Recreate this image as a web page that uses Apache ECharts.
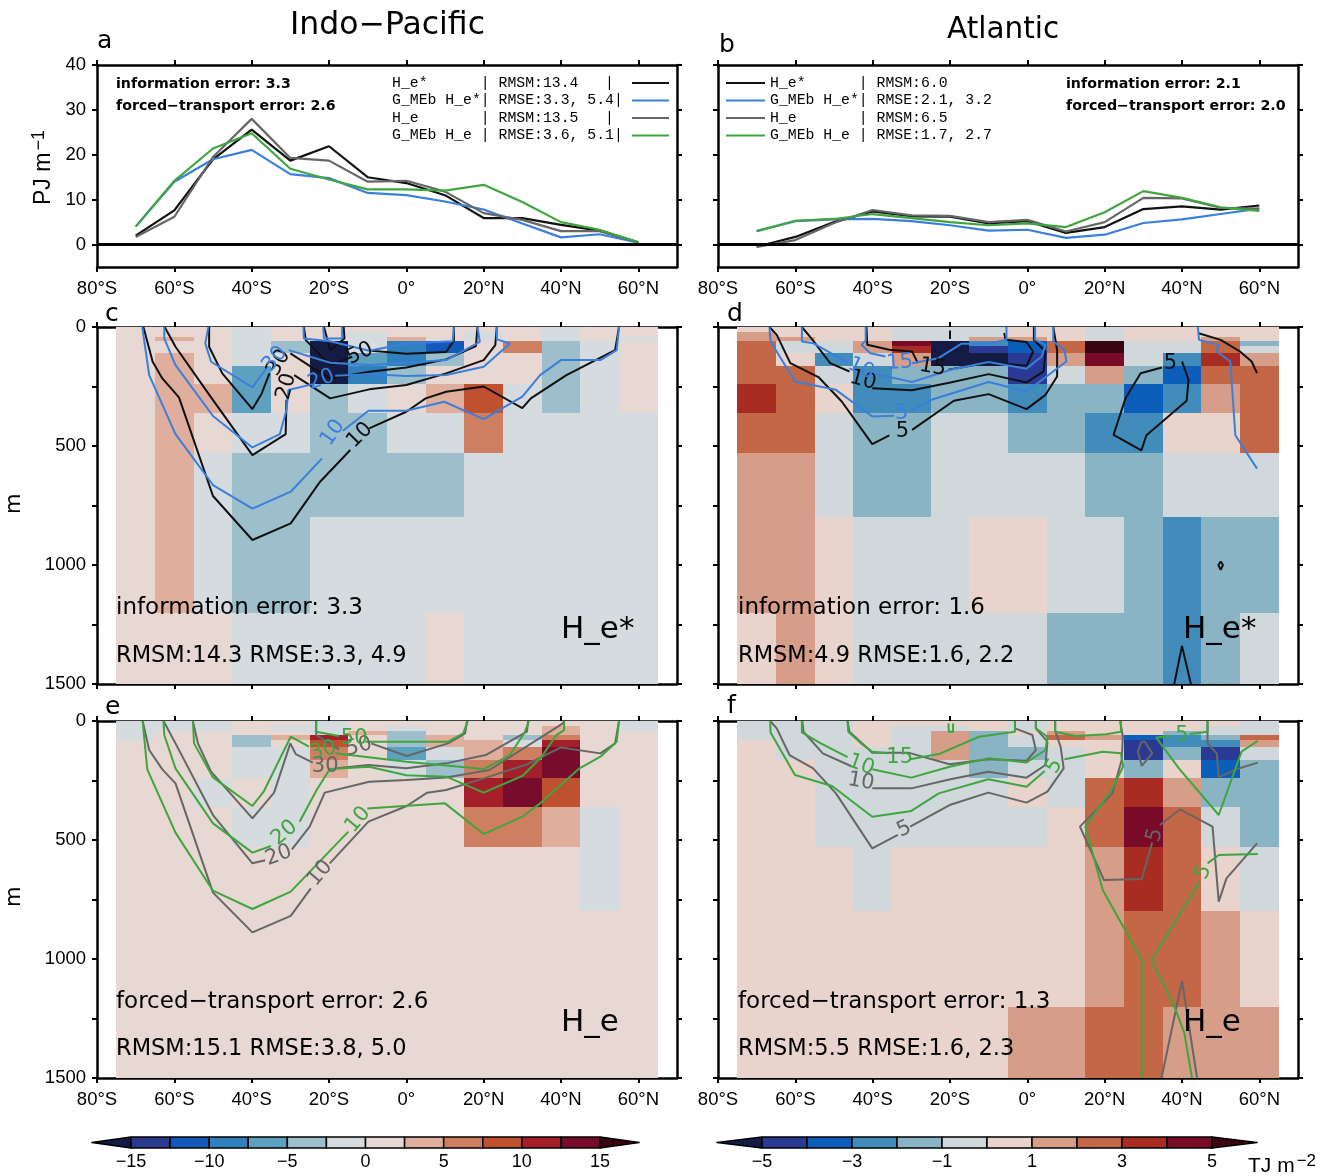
<!DOCTYPE html>
<html><head><meta charset="utf-8">
<style>html,body{margin:0;padding:0;background:#fff}#c{width:1338px;height:1176px}</style>
<script src="https://cdn.jsdelivr.net/npm/echarts@6/dist/echarts.min.js"></script></head>
<body><div id="c"></div>
<script>
const lats = [-70,-60,-50,-40,-30,-20,-10,0,10,20,30,40,50,60];
const depthEdges = [0,20,40,60,80,110,165,240,360,530,800,1200,1500];
const xTicks = [-80,-60,-40,-20,0,20,40,60];

// Zonal integrals, PJ m-1
const aHeStar  = [2,7.6,19,25.6,18.7,21.9,15,13.7,11,5.9,5.9,4.4,3.1,0.5];
const aGHeStar = [4,14,19,21.1,15.7,14.8,11.5,11,9.6,7.8,4.7,1.6,2.3,0.4];
const aHe      = [1.7,6.2,19.5,28,19.3,18.7,14,14.2,11.8,7,5.5,3,3,0.5];
const aGHe     = [4,14.2,21.4,24.8,16.9,14.5,12.3,12.3,12,13.3,9.5,5,3.3,0.5];
const bHeStar  = [-0.5,1.7,5,7.4,6.3,6.2,4.7,5.2,2.6,3.9,7.9,8.5,7.8,8.7];
const bGHeStar = [3,5.2,5.6,5.7,5.2,4.3,3.1,3.3,1.5,2.2,4.8,5.6,6.8,8];
const bHe      = [-0.5,1,4.8,7.7,6.5,6.4,5,5.5,2.9,5,10.4,10.3,8.2,8];
const bGHe     = [3,5.3,5.7,6.8,5.9,5,4.3,4.7,3.9,7.2,11.9,10.4,8.3,7.5];

// Difference fields (rows: depth layers, columns: lats), TJ m-2
const cellsC = [
[1,1,1,-1,1,1,1,1,1,1,1,-1,1,1],
[1,1,1,-1,1,1,-1,1,1,-1,1,-1,1,1],
[1,4,1,-1,1,1,-1,4,1,-1,1,-1,1,-1],
[1,1,1,-1,-4,-16,-1,-9,-11,1,6,-4,-1,1],
[1,1,1,-1,-4,-16,-1,-9,-11,1,6,-4,-1,1],
[1,4,1,-1,1,-16,-6,-9,-4,1,1,-4,-1,1],
[1,4,1,-6,1,-16,-9,-4,1,1,1,-4,-1,1],
[1,4,4,-6,1,-4,-1,1,4,9,-1,-4,-1,1],
[1,4,1,-1,-1,-4,-4,-1,-1,6,-1,-1,-1,-1],
[1,4,-1,-4,-4,-4,-4,-4,-4,-1,-1,-1,-1,-1],
[1,4,-1,-4,-4,-1,-1,-1,-1,-1,-1,-1,-1,-1],
[1,1,1,-1,-1,-1,-1,-1,1,-1,-1,-1,-1,-1]];
const cellsD = [
[.5,.5,.5,.5,-.5,-.5,-.5,.5,.5,-.5,.5,.5,.5,.5],
[1.5,.5,.5,.5,-.5,-.5,-.5,.5,.5,-.5,.5,.5,.5,.5],
[1.5,1.5,.5,.5,-.5,-.5,1.5,1.5,.5,-.5,.5,.5,1.5,.5],
[2.5,-.5,-.5,1.5,4.5,-5.5,-2.5,-3.5,2.5,5.5,-.5,-.5,2.5,-1.5],
[2.5,-.5,-.5,1.5,3.5,-5.5,-4.5,-3.5,2.5,5.5,-.5,-.5,2.5,-.5],
[2.5,.5,-2.5,-.5,1.5,-5.5,-5.5,-4.5,1.5,4.5,-.5,-2.5,3.5,1.5],
[2.5,2.5,-.5,-2.5,-1.5,-1.5,-1.5,-4.5,-.5,1.5,-1.5,-3.5,2.5,2.5],
[3.5,2.5,.5,-2.5,-2.5,-1.5,-1.5,-2.5,-1.5,-1.5,-3.5,-2.5,1.5,2.5],
[2.5,2.5,-.5,-1.5,-1.5,-.5,-.5,-1.5,-1.5,-2.5,-2.5,.5,.5,2.5],
[1.5,1.5,-.5,-1.5,-1.5,-.5,-.5,-.5,-.5,-1.5,-1.5,-.5,-.5,-.5],
[1.5,1.5,.5,-.5,-.5,-.5,.5,.5,-.5,-.5,-1.5,-2.5,-1.5,-1.5],
[.5,1.5,.5,-.5,-.5,-.5,-.5,-.5,-1.5,-1.5,-1.5,-2.5,-1.5,-.5]];
const cellsE = [
[-1,-1,-1,1,1,-1,1,1,1,1,1,1,1,-1],
[-1,-1,-1,1,-1,-1,1,-1,1,1,1,4,1,-1],
[-1,1,1,1,1,-1,4,-4,1,1,1,4,1,1],
[-1,1,1,-4,4,11,1,-4,4,1,-4,6,1,1],
[1,1,1,-4,1,9,1,-4,4,4,-1,11,1,1],
[1,1,1,-1,-1,6,1,-6,-1,4,6,14,1,1],
[1,1,1,-1,-1,4,1,-1,-4,6,11,14,1,1],
[1,1,-1,1,-1,1,1,1,1,11,14,9,1,1],
[1,1,1,-1,-1,1,1,1,1,6,6,4,-1,1],
[1,1,1,1,1,1,1,1,1,1,1,1,-1,1],
[1,1,1,1,1,1,1,1,1,1,1,1,1,1],
[1,1,1,1,1,1,1,1,1,1,1,1,1,1]];
const cellsF = [
[-.5,-.5,-.5,.5,.5,.5,.5,-.5,.5,.5,.5,.5,.5,-.5],
[-.5,-.5,-.5,.5,-.5,-.5,.5,-.5,.5,.5,.5,.5,-.5,-.5],
[-.5,-.5,-.5,.5,-.5,1.5,-1.5,.5,1.5,.5,.5,-1.5,-.5,-.5],
[-.5,-.5,-.5,.5,-.5,1.5,-1.5,-.5,2.5,1.5,-3.5,-2.5,-1.5,2.5],
[.5,-.5,-.5,.5,-.5,1.5,-1.5,-.5,.5,.5,-4.5,-2.5,-2.5,1.5],
[.5,-.5,-.5,-.5,-.5,1.5,-1.5,-1.5,-.5,.5,-4.5,-1.5,-4.5,-.5],
[.5,.5,-.5,-.5,-.5,-.5,-1.5,-.5,-.5,.5,-1.5,.5,-3.5,-1.5],
[.5,.5,-.5,-.5,-.5,-.5,-.5,.5,-.5,2.5,3.5,1.5,-1.5,-1.5],
[.5,.5,-.5,-.5,-.5,-.5,-.5,-.5,.5,2.5,4.5,2.5,-.5,-1.5],
[.5,.5,.5,-.5,.5,.5,.5,.5,.5,1.5,3.5,2.5,.5,-.5],
[.5,.5,.5,.5,.5,.5,.5,.5,.5,1.5,2.5,2.5,1.5,.5],
[.5,.5,.5,.5,.5,.5,.5,1.5,1.5,2.5,2.5,1.5,1.5,1.5]];

// Colour scales
const levelsL = [-15,-12.5,-10,-7.5,-5,-2.5,0,2.5,5,7.5,10,12.5,15];
const paletteL = ['#141c46','#2b3a8f','#1259b9','#2f80bd','#5da0bf','#9dbfcb','#d5dbdf','#e8d8d3','#dfae9c','#cf7f61','#bf5030','#a51f2a','#780c2c','#3a0612'];
const levelsR = [-5,-4,-3,-2,-1,0,1,2,3,4,5];
const paletteR = ['#141c46','#2a3a94','#0b5fbb','#428cbb','#8ab4c4','#d0d8dc','#e8d3cd','#d69d88','#c46746','#a92c22','#790b28','#3a0612'];
const labelsL = [-15,-10,-5,0,5,10,15];
const labelsR = [-5,-3,-1,1,3,5];

// Contours: [lat, depth] segments broken at inline labels
const cBlack = [
 [[-68,0],[-65.6,146],[-63.1,216],[-58.8,296],[-50,710],[-39.8,895],[-29.9,825],[-22.3,650],[-14.5,517]],
 [[-9.6,426],[0,356],[5,300],[10.3,272],[20,250],[30,341],[32.2,300],[41.4,202],[54,97],[55,0]],
 [[-62.5,0],[-59.7,83],[-50.5,296],[-39.8,538],[-31.2,450],[-31,306]],
 [[-29,202],[-19.7,300],[-9.6,262],[0,244],[10.3,195],[20,139],[23,76],[23.4,0]],
 [[-51,0],[-51,83],[-47.6,195],[-39.8,345],[-37.4,279],[-35.4,195]],
 [[-30,111],[-24,174],[-19.7,216],[-9.6,188],[0,170],[10.3,136],[18,80],[18.4,0]],
 [[-26.5,0],[-26,55],[-19.7,160],[-14,125]],
 [[-9,100],[0,112],[10.3,105],[12.3,56],[12.3,0]],
 [[-21.3,0],[-19.7,97],[-16,48],[-16.2,0]]];
const cBlue = [
 [[-68.3,0],[-66.5,202],[-59.7,450],[-50,664],[-39.8,763],[-29.9,692],[-21.8,552]],
 [[-16.4,436],[-9.8,352],[0,352],[9.8,314],[20,387],[30,293],[34.6,202],[40,139],[50.2,139],[54.4,97],[55,0]],
 [[-62.6,0],[-62.6,48],[-59.7,160],[-50,374],[-39.8,506],[-32.7,450],[-31,349],[-30.5,265],[-24.2,240]],
 [[-18.4,205],[-9.6,198],[0,206],[10.3,202],[20,167],[26.8,69],[23.4,52],[23.4,0]],
 [[-51.2,0],[-52,69],[-50.5,146],[-39.8,254],[-35.9,167]],
 [[-30.4,97],[-19.7,150],[-9.6,160],[0,150],[10.3,139],[19,62],[18.4,0]],
 [[-26.6,0],[-26.5,48],[-19.7,60],[-9.6,100],[0,69],[12,60],[12.3,0]],
 [[-21.5,0],[-21.3,48],[-16.6,48],[-16.6,0]]];
const dBlack = [
 [[-66.7,0],[-64.8,33],[-61.3,152],[-53.9,212],[-48,313],[-40.1,492],[-35.7,455]],
 [[-29.8,432],[-19,310],[-10,282],[-0.2,345],[4.7,285],[7.7,208],[7.7,96],[6.7,0]],
 [[-58.3,0],[-55.9,47],[-51,152],[-46,187]],
 [[-40.1,257],[-29.8,266],[-19.9,233],[-10,198],[-0.2,233],[4.2,187],[4.7,103],[1.7,54],[1.7,0]],
 [[-41.6,0],[-41.4,75],[-35.7,96],[-29.8,103],[-28.3,152]],
 [[-20.4,180],[-10,149],[-0.2,163],[1.5,103],[-0.2,63],[-5.6,54],[-6,25]],
 [[-20,15],[-20,50]],
 [[40,145],[41.7,222],[41.2,310],[30.8,455],[29.5,518],[22.3,453],[25.4,299],[29.3,194],[34.8,170]],
 [[44.3,26],[50,54],[55,103],[58,145],[59.4,194]],
 [[50,985],[50.6,1000],[50,1020],[49.4,1000],[50,985]],
 [[38,1500],[40,1340],[42.3,1500]]];
const dBlue = [
 [[-66.7,0],[-66.4,61],[-60.1,229],[-49.5,264],[-40.1,376],[-34.5,373]],
 [[-30,350],[-24.8,306],[-10,231],[-0.2,271],[10.1,145],[9.6,96],[6.7,61],[6.7,0]],
 [[-58.3,0],[-58.3,61],[-55.4,68],[-51.5,103],[-46.5,150]],
 [[-40.1,194],[-29.8,231],[-19.9,180],[-10,147],[-0.2,175],[3.7,124],[4.7,75],[2,54],[2,0]],
 [[-41.8,0],[-41.8,58],[-42.9,75],[-40.6,110],[-36.7,124]],
 [[-29.8,152],[-23,131],[-17,70],[-10,70],[-5.4,54],[-5.4,0]],
 [[44.1,0],[44.4,54],[49.5,75],[49,103],[52.5,145],[53.8,455],[59.4,595]]];
const eGray = [
 [[-68.2,0],[-66.5,122],[-63.1,203],[-59.7,262],[-50,721],[-39.8,888],[-29.9,819],[-24.7,703]],
 [[-19.8,598],[-9.8,423],[0.1,357],[5.4,301],[10.3,290],[20,241],[30.7,185],[40,111],[50.2,136],[54,94],[55,0]],
 [[-62.8,0],[-59.7,94],[-50,395],[-39.8,598],[-36.5,585]],
 [[-29.6,539],[-25,444],[-21.1,301],[-9.6,255],[0,248],[10.3,237],[21.5,206],[40.5,10],[40.8,0]],
 [[-55.2,0],[-53.9,94],[-50.5,213],[-39.8,409],[-34.2,301],[-30,94],[-28.6,139],[-24.2,175]],
 [[-18,199],[-9.8,185],[0,199],[10.3,178],[20.5,143],[31.2,45],[31.5,0]],
 [[-23.3,0],[-23.3,59],[-17.4,119]],
 [[-9.1,94],[0.1,147],[10.8,94],[15.2,52],[15.7,0]]];
const eGreen = [
 [[-68.2,0],[-67,203],[-59.7,469],[-50,713],[-39.8,790],[-29.9,717],[-15,465]],
 [[-10.1,368],[10,346],[20,475],[30,402],[34.6,346],[44.8,199],[50.2,150],[54.4,87],[55,0]],
 [[-62.8,0],[-62.6,59],[-59.7,199],[-50,430],[-39.8,553],[-35,525]],
 [[-27.6,423],[-23.2,290],[-19.8,202],[-9.6,192],[0,228],[10.3,234],[20,301],[30.1,230],[35,150],[38.8,59],[40.8,38],[40.8,0]],
 [[-55.2,0],[-54.9,94],[-50,237],[-39.8,357],[-36.9,297],[-29.9,66],[-25.2,108]],
 [[-18.4,136],[0,171],[20,202],[26.8,143],[30.7,45],[31.7,0]],
 [[-23.3,0],[-23.4,45],[-17.4,63]],
 [[-10.6,87],[5,87],[10.8,87],[14.7,52],[15.9,0]]];
const fGray = [
 [[-66.5,0],[-64.8,31],[-61.5,143],[-55.4,199],[-49.5,304],[-40.1,535],[-33.5,478]],
 [[-30.3,444],[-20.1,353],[-10.1,301],[-0.2,343],[5.2,297],[9.4,199],[8.6,108],[7.2,40],[7.2,0]],
 [[-58.2,0],[-57.9,45],[-52.9,136],[-45.5,190]],
 [[-40.1,283],[-30,283],[-19.9,245],[-10.1,213],[-0.2,238],[4.7,185],[5.2,87],[2.2,31],[2.2,0]],
 [[-46.5,0],[-46,45],[-40.1,133],[-30.8,133],[-20.1,182],[-10.1,161],[-0.2,167],[2.2,122],[1.3,59],[-3.2,31],[-3.2,0]],
 [[24,0],[24.7,66],[24.4,164],[22,304],[13.6,444],[19.8,668],[29.6,664],[32.3,510]],
 [[34.3,437],[39.5,371],[47.9,444],[49.5,759],[51.5,661],[59.4,514]],
 [[29.5,87],[28.6,129],[29.6,189],[32.3,136],[30.4,87],[29.5,87]],
 [[46.6,0],[46.6,94],[49,136],[49.5,237],[54,203],[59.6,175]],
 [[34.7,1500],[40,1092],[43.9,1500]]];
const fGreen = [
 [[-46.5,0],[-46.3,45],[-43,94],[-40.1,129],[-36,135]],
 [[-30.3,161],[-22.9,139],[-12.5,66],[-3.2,45],[-3.2,0]],
 [[-58.3,0],[-58.3,48],[-53.4,94],[-46.5,152]],
 [[-40.1,203],[-30,238],[-20.1,192],[-10.1,157],[-0.2,174],[4.7,122],[5.2,66],[2.2,31],[2.2,0]],
 [[-66.5,0],[-66.4,48],[-60.1,227],[-50.5,273],[-40.1,402],[-30,378],[-22.9,304],[-10.1,245],[-0.2,276],[4.5,210]],
 [[9.6,161],[19.5,129],[24.2,136],[24.8,190],[22,283],[15,444],[19.5,710],[29.6,1004],[29.6,1500]],
 [[7.2,0],[7.2,45],[12.6,63],[20.4,56],[24.2,45],[24.2,0]],
 [[42.6,1500],[40.6,1311],[38.2,1206],[32.1,1004],[44.6,675]],
 [[46.6,598],[49.5,563],[59.6,559]],
 [[46.6,0],[46.6,45],[42,55]],
 [[37,63],[33.3,69],[39.2,199],[49.5,395],[54,192],[55.4,129],[59.6,83]],
 [[-20.4,10],[-20.3,45],[-19.2,45],[-19.2,10]]];

// Inline contour labels: lat, depth, text, rotation (deg)
const cLabBlack = [[-12,455,'10',45],[-31,250,'20',75],[-33,150,'30',60],[-12,112,'50',25]];
const cLabBlue  = [[-19,445,'10',55],[-22,222,'20',20],[-34,135,'30',50]];
const dLabBlack = [[-32.3,440,'5',0],[-42.5,225,'10',-15],[-24.5,170,'15',-10],[37,155,'5',0]];
const dLabBlue  = [[-32.5,365,'5',0],[-43,175,'10',-25],[-33,150,'15',5]];
const eLabGray  = [[-22.3,640,'10',50],[-33,565,'20',20],[-21,190,'30',0],[-12.3,108,'50',15]];
const eLabGreen = [[-12.5,415,'10',50],[-31.5,470,'20',40],[-21.5,125,'30',15],[-13.5,75,'50',0]];
const fLabGray  = [[-31.8,455,'5',25],[-43,255,'10',-10],[33,480,'5',75]];
const fLabGreen = [[-33,155,'15',0],[-43,185,'10',-20],[7,190,'5',60],[45.5,635,'5',65],[40,60,'5',0]];

const cBK='#111111', cBL='#3a7fdc', cGY='#666666', cGN='#3fa53f';
const LX=[97,718], W=580;
const sans='"Liberation Sans", Arial, sans-serif';
const thin='"DejaVu Sans", sans-serif';
const xlight='"DejaVu Sans ExtraLight","DejaVu Sans", sans-serif';
const mono='"Liberation Mono", monospace';

const grids=[],xAxes=[],yAxes=[],series=[];
function colorOf(v,levels,pal){let i=0;while(i<levels.length&&v>=levels[i])i++;return pal[i];}

function addPanel(x,y,h,kind,showX){
  const gi=grids.length;
  grids.push({left:x,top:y,width:W,height:h});
  const lineStyle={color:'#000',width:2.5};
  const labelFont={fontFamily:sans,fontSize:18.5,color:'#000'};
  const xfmt=v=>v===0?'0°':(Math.abs(v)+'°'+(v<0?'S':'N'));
  xAxes.push({gridIndex:gi,type:'value',min:-80,max:70,position:'bottom',splitLine:{show:false},
    axisLine:{lineStyle,onZero:false},axisTick:{length:5,inside:false,lineStyle:{width:2,color:'#000'},customValues:xTicks},
    axisLabel:{show:showX,customValues:xTicks,formatter:xfmt,margin:12,...labelFont}});
  xAxes.push({gridIndex:gi,type:'value',min:-80,max:70,position:'top',splitLine:{show:false},
    axisLine:{lineStyle,onZero:false},axisTick:{length:5,lineStyle:{width:2,color:'#000'},customValues:xTicks},axisLabel:{show:false}});
  const ytick=kind==='line'?[0,10,20,30,40]:[0,250,500,750,1000,1250,1500];
  const ylab=kind==='line'?[0,10,20,30,40]:[0,500,1000,1500];
  const yr=kind==='line'?{min:-5,max:40}:{min:0,max:1500,inverse:true};
  const leftLab=x===LX[0];
  yAxes.push({gridIndex:gi,type:'value',...yr,position:'left',splitLine:{show:false},
    axisLine:{lineStyle,onZero:false},axisTick:{length:5,lineStyle:{width:2,color:'#000'},customValues:ytick},
    axisLabel:{show:leftLab,customValues:ylab,formatter:v=>String(v),margin:11,...labelFont}});
  yAxes.push({gridIndex:gi,type:'value',...yr,position:'right',splitLine:{show:false},
    axisLine:{lineStyle,onZero:false},axisTick:{length:5,lineStyle:{width:2,color:'#000'},customValues:ytick},axisLabel:{show:false}});
  return {xAxisIndex:gi*2,yAxisIndex:gi*2};
}
function addLines(ax,arr){
  arr.forEach(([data,color])=>series.push({type:'line',...ax,data:lats.map((l,i)=>[l,data[i]]),
    showSymbol:false,lineStyle:{color,width:2.2},silent:true,animation:false,z:4}));
  series.push({type:'line',...ax,data:[],silent:true,animation:false,
    markLine:{silent:true,symbol:'none',label:{show:false},animation:false,
      lineStyle:{color:'#000',width:3,type:'solid'},data:[{yAxis:0}]}});
}
function addCells(ax,cells,levels,pal){
  const data=[];
  cells.forEach((row,r)=>row.forEach((v,c)=>data.push([lats[c]-5,lats[c]+5,depthEdges[r],depthEdges[r+1],v])));
  series.push({type:'custom',...ax,data,silent:true,animation:false,z:1,encode:{x:[0,1],y:[2,3]},
    renderItem:(p,api)=>{
      const a=api.coord([api.value(0),api.value(2)]),b=api.coord([api.value(1),api.value(3)]);
      const x=Math.round(a[0]),y=Math.round(a[1]);
      return {type:'rect',shape:{x,y,width:Math.round(b[0])-x,height:Math.round(b[1])-y},
        style:{fill:colorOf(api.value(4),levels,pal)}};
    }});
}
function addContours(ax,segs,color){
  segs.forEach(s=>series.push({type:'line',...ax,data:s,showSymbol:false,smooth:false,
    lineStyle:{color,width:2},silent:true,animation:false,z:5}));
}
function addLabels(ax,labs,color){
  series.push({type:'custom',...ax,data:labs,silent:true,animation:false,z:6,encode:{x:0,y:1},
    renderItem:(p,api)=>{
      const item=labs[p.dataIndex],pt=api.coord([item[0],item[1]]);
      return {type:'text',x:pt[0],y:pt[1],rotation:item[3]*Math.PI/180,z2:50,
        style:{text:item[2],fill:color,font:'21px '+thin,align:'center',verticalAlign:'middle'}};
    }});
}
function addBar(left,width,levels,pal,labels){
  const gi=grids.length;
  grids.push({left,top:1137,width,height:11});
  const step=levels[1]-levels[0],lo=levels[0],hi=levels[levels.length-1];
  xAxes.push({gridIndex:gi,type:'value',min:lo,max:hi,axisLine:{show:false},axisTick:{show:false},splitLine:{show:false},
    axisLabel:{customValues:labels,margin:5,fontFamily:'"Liberation Sans Narrow","Liberation Sans",sans-serif',fontSize:18,color:'#000',
      formatter:v=>String(v).replace('-','\u2212')}});
  xAxes.push({gridIndex:gi,type:'value',min:lo,max:hi,show:false});
  yAxes.push({gridIndex:gi,type:'value',min:0,max:1,show:false});
  yAxes.push({gridIndex:gi,type:'value',min:0,max:1,show:false});
  const data=pal.map((c,i)=>[i===0?lo-step:levels[i-1],i===pal.length-1?hi+step:levels[i],i]);
  series.push({type:'custom',xAxisIndex:gi*2,yAxisIndex:gi*2,data,silent:true,animation:false,clip:false,encode:{x:[0,1]},
    renderItem:(p,api)=>{
      const i=api.value(2);
      const a=api.coord([api.value(0),0]),b=api.coord([api.value(1),1]);
      const sty={fill:pal[i],stroke:'#000',lineWidth:1.5,lineJoin:'round'};
      const ym=(a[1]+b[1])/2;
      if(i===0)return {type:'polygon',shape:{points:[[a[0],ym],[b[0],b[1]],[b[0],a[1]]]},style:sty};
      if(i===pal.length-1)return {type:'polygon',shape:{points:[[a[0],a[1]],[a[0],b[1]],[b[0],ym]]},style:sty};
      return {type:'rect',shape:{x:a[0],y:b[1],width:b[0]-a[0],height:a[1]-b[1]},style:sty};
    }});
}

const pa=addPanel(LX[0],65,202,'line',true);
addLines(pa,[[aHeStar,cBK],[aGHeStar,cBL],[aHe,cGY],[aGHe,cGN]]);
const pb=addPanel(LX[1],65,202,'line',true);
addLines(pb,[[bHeStar,cBK],[bGHeStar,cBL],[bHe,cGY],[bGHe,cGN]]);
const pc=addPanel(LX[0],327,357,'cell',false);
addCells(pc,cellsC,levelsL,paletteL);addContours(pc,cBlack,cBK);addContours(pc,cBlue,cBL);addLabels(pc,cLabBlack,cBK);addLabels(pc,cLabBlue,cBL);
const pd=addPanel(LX[1],327,357,'cell',false);
addCells(pd,cellsD,levelsR,paletteR);addContours(pd,dBlack,cBK);addContours(pd,dBlue,cBL);addLabels(pd,dLabBlack,cBK);addLabels(pd,dLabBlue,cBL);
const pe=addPanel(LX[0],721,357,'cell',true);
addCells(pe,cellsE,levelsL,paletteL);addContours(pe,eGray,cGY);addContours(pe,eGreen,cGN);addLabels(pe,eLabGray,cGY);addLabels(pe,eLabGreen,cGN);
const pf=addPanel(LX[1],721,357,'cell',true);
addCells(pf,cellsF,levelsR,paletteR);addContours(pf,fGray,cGY);addContours(pf,fGreen,cGN);addLabels(pf,fLabGray,cGY);addLabels(pf,fLabGreen,cGN);
addBar(131,469,levelsL,paletteL,labelsL);
addBar(762,450,levelsR,paletteR,labelsR);

// Text
const txt=(x,y,text,font,extra={})=>({type:'text',x,y,z:100,silent:true,...extra,
  style:{text,font,fill:'#000',textVerticalAlign:'middle',...(extra.style||{})}});
const mid='23px '+thin, rms='22.5px '+thin, big='31px '+xlight, bold='bold 14.2px '+thin, m15='14.8px '+mono, sub='25px '+thin;
const legA=['H_e*      | RMSM:13.4   |','G_MEb H_e*| RMSE:3.3, 5.4|','H_e       | RMSM:13.5   |','G_MEb H_e | RMSE:3.6, 5.1|'];
const legB=['H_e*      | RMSM:6.0','G_MEb H_e*| RMSE:2.1, 3.2','H_e       | RMSM:6.5','G_MEb H_e | RMSE:1.7, 2.7'];
const legC=[cBK,cBL,cGY,cGN];
const legY=[83,100.5,118,135.5];
const gfx=[
 txt(290,26,'Indo\u2212Pacific','31.5px '+xlight),
 txt(947,30,'Atlantic','29.5px '+xlight),
 txt(97,41,'a',sub),txt(719,45,'b',sub),txt(105,314,'c',sub),txt(727,314,'d',sub),txt(105,707,'e',sub),txt(727,706,'f',sub),
 txt(116,84,'information error: 3.3',bold),txt(116,106,'forced\u2212transport error: 2.6',bold),
 txt(1066,84,'information error: 2.1',bold),txt(1066,106,'forced\u2212transport error: 2.0',bold),
 txt(116,608,'information error: 3.3',mid),txt(116,656,'RMSM:14.3 RMSE:3.3, 4.9',rms),txt(561,630,'H_e*',big),
 txt(738,608,'information error: 1.6',mid),txt(738,656,'RMSM:4.9 RMSE:1.6, 2.2',rms),txt(1183,630,'H_e*',big),
 txt(116,1002,'forced\u2212transport error: 2.6',mid),txt(116,1049,'RMSM:15.1 RMSE:3.8, 5.0',rms),txt(561,1023,'H_e',big),
 txt(738,1002,'forced\u2212transport error: 1.3',mid),txt(738,1049,'RMSM:5.5 RMSE:1.6, 2.3',rms),txt(1183,1023,'H_e',big),
 txt(15,514,'m','21px '+thin,{rotation:Math.PI/2}),
 txt(15,907,'m','21px '+thin,{rotation:Math.PI/2}),
 {type:'text',x:44,y:205,z:100,rotation:Math.PI/2,silent:true,
  style:{text:'{a|PJ m}{s|\u22121}',textVerticalAlign:'middle',rich:{a:{font:'23px '+sans,fill:'#000'},s:{font:'18px '+sans,fill:'#000',padding:[0,0,10,2]}}}},
 {type:'text',x:1248,y:1166,z:100,silent:true,
  style:{text:'{a|TJ m}{s|\u22122}',textVerticalAlign:'middle',rich:{a:{font:'21px '+sans,fill:'#000'},s:{font:'17px '+sans,fill:'#000',padding:[0,0,10,2]}}}}
];
legA.forEach((t,i)=>{gfx.push(txt(392,legY[i],t,m15));
  gfx.push({type:'line',z:100,silent:true,shape:{x1:632,y1:legY[i],x2:669,y2:legY[i]},style:{stroke:legC[i],lineWidth:2}});});
legB.forEach((t,i)=>{gfx.push(txt(770,legY[i],t,m15));
  gfx.push({type:'line',z:100,silent:true,shape:{x1:726,y1:legY[i],x2:765,y2:legY[i]},style:{stroke:legC[i],lineWidth:2}});});

const chart=echarts.init(document.getElementById('c'),null,{renderer:'canvas'});
chart.setOption({animation:false,backgroundColor:'#fff',grid:grids,xAxis:xAxes,yAxis:yAxes,series,graphic:gfx});
</script></body></html>
